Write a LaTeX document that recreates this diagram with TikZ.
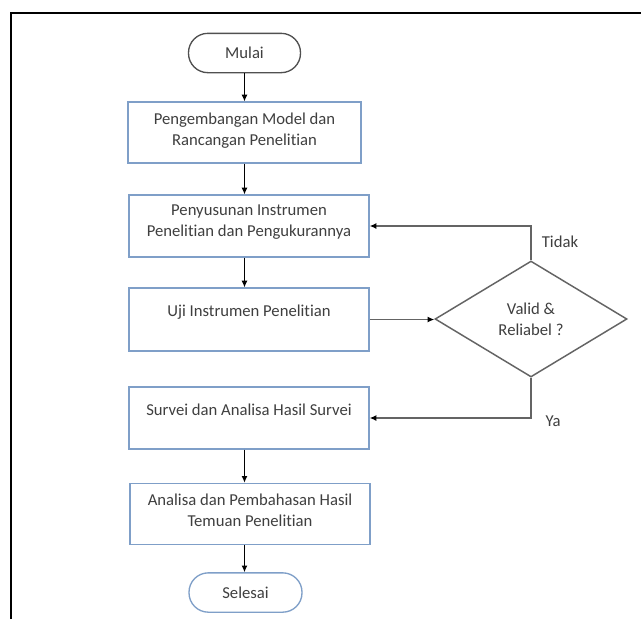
\documentclass[tikz,border=0pt]{standalone}
\usepackage{fontspec}
\setmainfont{Carlito}[Ligatures=CommonOff]
\usetikzlibrary{shapes.geometric,arrows.meta}
\definecolor{boxblue}{HTML}{7F9FC8}
\definecolor{txtgray}{HTML}{3F3F3F}
\definecolor{linegray}{HTML}{646464}
\definecolor{termgray}{HTML}{505050}
\begin{document}
\begin{tikzpicture}[x=0.75pt,y=-0.75pt,
  txt/.style={font=\fontsize{12.5}{15.8}\selectfont, text=txtgray, align=center, inner sep=0pt},
  procbox/.style={draw=boxblue, line width=1pt, minimum width=180pt, minimum height=46.5pt, inner sep=0pt},
  termbox/.style={rounded corners=14.5pt, line width=1pt, minimum width=84pt, minimum height=29.5pt, inner sep=0pt, txt},
  decbox/.style={diamond, draw=linegray, line width=1.1pt, minimum width=144pt, minimum height=87pt, aspect=1.65, inner sep=0pt, txt},
  arr/.style={line width=0.8pt, draw=black, -{Latex[length=5pt,width=4.5pt]}},
  garr/.style={line width=1.2pt, draw=linegray, -{Latex[length=5pt,width=4.5pt,fill=black,color=black]}}
]
\fill[white] (0,0) rectangle (641,619);
\useasboundingbox (0,0) rectangle (641,619);
\draw[line width=1.4pt] (11,619) -- (11,13) -- (641,13);

\node[termbox, draw=termgray] (mulai) at (244.5,53) {Mulai};
\node[procbox, minimum width=174.75pt, minimum height=45.75pt] (b1) at (244.5,132.5) {};
\node[txt] (b1t) at (244.5,130.5) {Pengembangan Model dan\\Rancangan Penelitian};
\node[procbox] (b2) at (249,226) {};
\node[txt] (b2t) at (249,222) {Penyusunan Instrumen\\Penelitian dan Pengukurannya};
\node[procbox, minimum height=47.25pt] (b3) at (249,319.5) {};
\node[txt] (b3t) at (249,312) {Uji Instrumen Penelitian};
\node[procbox] (b4) at (249,418) {};
\node[txt] (b4t) at (249,410) {Survei dan Analisa Hasil Survei};
\node[procbox, minimum height=46pt] (b5) at (250,514) {};
\node[txt] (b5t) at (250,510) {Analisa dan Pembahasan Hasil\\Temuan Penelitian};
\node[termbox, draw=boxblue, minimum width=84.75pt] (selesai) at (245.5,592.5) {Selesai};
\node[decbox] (dia) at (531,319) {Valid \&\\Reliabel ?};

\node[txt] (tidak) at (560,242) {Tidak};
\node[txt] (ya) at (553,421) {Ya};

\draw[arr] (mulai.south) -- (b1.north);
\draw[arr] (b1.south) -- (b1.south |- b2.north);
\draw[arr] (b2.south -| b1.south) -- (b3.north -| b1.south);
\draw[arr] (b4.south -| b1.south) -- (b5.north -| b1.south);
\draw[arr] (b5.south -| b1.south) -- (selesai.north -| b1.south);
\draw[garr] (b3.east) -- (b3.east -| dia.west);
\draw[garr] (dia.north) -- (dia.north |- b2.east) -- (b2.east);
\draw[garr] (dia.south) -- (dia.south |- b4.east) -- (b4.east);
\end{tikzpicture}
\end{document}
